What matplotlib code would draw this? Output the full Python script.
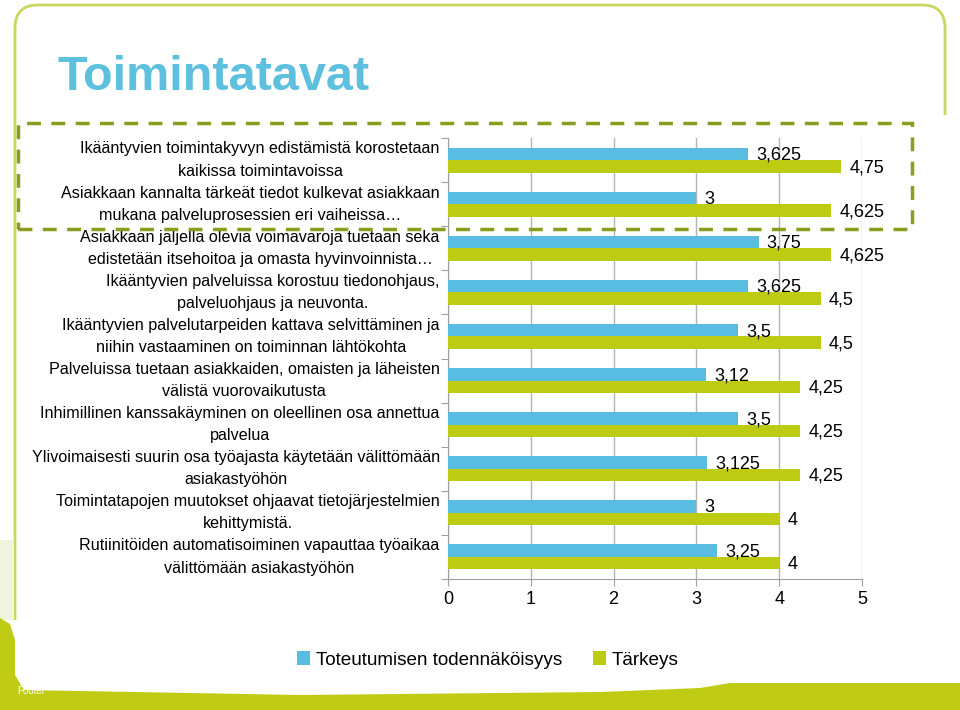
import matplotlib
matplotlib.use("Agg")
import matplotlib.pyplot as plt
from matplotlib.patches import Polygon, Rectangle, PathPatch
from matplotlib.path import Path

plt.rcParams["font.family"] = ["Liberation Sans", "DejaVu Sans"]

# ── Data ───────────────────────────────────────────────────────────────────────
categories = [
    "Ikääntyvien toimintakyvyn edistämistä korostetaan\nkaikissa toimintavoissa",
    "Asiakkaan kannalta tärkeät tiedot kulkevat asiakkaan\nmukana palveluprosessien eri vaiheissa…",
    "Asiakkaan jäljellä olevia voimavaroja tuetaan sekä\nedistetään itsehoitoa ja omasta hyvinvoinnista…",
    "Ikääntyvien palveluissa korostuu tiedonohjaus,\npalveluohjaus ja neuvonta.",
    "Ikääntyvien palvelutarpeiden kattava selvittäminen ja\nniihin vastaaminen on toiminnan lähtökohta",
    "Palveluissa tuetaan asiakkaiden, omaisten ja läheisten\nvälistä vuorovaikutusta",
    "Inhimillinen kanssakäyminen on oleellinen osa annettua\npalvelua",
    "Ylivoimaisesti suurin osa työajasta käytetään välittömään\nasiakastyöhön",
    "Toimintatapojen muutokset ohjaavat tietojärjestelmien\nkehittymistä.",
    "Rutiinitöiden automatisoiminen vapauttaa työaikaa\nvälittömään asiakastyöhön",
]
toteutuminen = [3.625, 3, 3.75, 3.625, 3.5, 3.12, 3.5, 3.125, 3, 3.25]
tarkeys = [4.75, 4.625, 4.625, 4.5, 4.5, 4.25, 4.25, 4.25, 4, 4]
series_names = ["Toteutumisen todennäköisyys", "Tärkeys"]
x_ticks = [0, 1, 2, 3, 4, 5]

BLUE = "#58bde0"
GREEN = "#bdcb13"
W, H = 960, 710


def fmt(v):
    return f"{v:g}".replace(".", ",")


fig = plt.figure(figsize=(W / 100, H / 100), dpi=100, facecolor="white")

# ── Slide background (pixel coordinates) ───────────────────────────────────────
bg = fig.add_axes([0, 0, 1, 1], zorder=-1)
bg.set_xlim(0, W)
bg.set_ylim(H, 0)
bg.axis("off")

frame = Path(
    [(15, 620), (15, 28), (15, 5), (38, 5), (922, 5), (945, 5), (945, 28), (945, 115)],
    [Path.MOVETO, Path.LINETO, Path.CURVE3, Path.CURVE3, Path.LINETO,
     Path.CURVE3, Path.CURVE3, Path.LINETO],
)
bg.add_patch(PathPatch(frame, fill=False, edgecolor="#cad65e", linewidth=2))
bg.add_patch(Rectangle((0, 540), 14, 80, facecolor="#f1f4dc", edgecolor="none"))
band = [(0, 618), (10, 624), (15, 640), (15, 675), (24, 690), (300, 695),
        (600, 692), (700, 688), (730, 683), (960, 683), (960, 710), (0, 710)]
bg.add_patch(Polygon(band, closed=True, facecolor="#c0cc14", edgecolor="none"))
bg.text(17, 691, "Footer", color="white", fontsize=7, va="center")
bg.text(58, 78, "Toimintatavat", color="#5cc0de", fontsize=35, fontweight="bold",
        family=["Liberation Sans Narrow", "Liberation Sans", "DejaVu Sans"],
        va="center", ha="left")

# ── Chart ──────────────────────────────────────────────────────────────────────
ax = fig.add_axes([448 / W, 1 - 579 / H, (862 - 448) / W, (579 - 138) / H])
pos = list(range(len(categories)))
bh = 0.283
bars_t = ax.barh([p - bh / 2 for p in pos], toteutuminen, height=bh, color=BLUE,
                 label=series_names[0], zorder=3)
bars_k = ax.barh([p + bh / 2 for p in pos], tarkeys, height=bh, color=GREEN,
                 label=series_names[1], zorder=3)

for bars, vals in ((bars_t, toteutuminen), (bars_k, tarkeys)):
    for b, v in zip(bars, vals):
        ax.annotate(fmt(v), (b.get_width(), b.get_y() + b.get_height() / 2),
                    xytext=(6, -1), textcoords="offset points",
                    va="center", ha="left", fontsize=13, color="black")

ax.set_xlim(0, 5)
ax.set_ylim(len(categories) - 0.5, -0.5)
ax.set_xticks(x_ticks)
ax.set_xticklabels([str(t) for t in x_ticks], fontsize=13)
ax.tick_params(axis="x", length=5, color="#a0a0a0", pad=4)

ax.set_yticks([p + 0.5 for p in range(-1, len(categories))])
ax.set_yticklabels([])
ax.tick_params(axis="y", which="major", length=5, color="#a0a0a0")
ax.set_yticks(pos, minor=True)
ax.set_yticklabels(categories, minor=True, fontsize=11.6, ha="right",
                   va="center", multialignment="center")
ax.tick_params(axis="y", which="minor", length=0, pad=6)
for lbl in ax.get_yticklabels(minor=True):
    lbl.set_linespacing(1.6)

ax.grid(axis="x", color="#b4b4b4", linewidth=1, zorder=0)
ax.spines[["top", "right"]].set_visible(False)
ax.spines[["left", "bottom"]].set_color("#a0a0a0")

fig.legend(handles=[bars_t, bars_k], labels=series_names, loc="center",
           bbox_to_anchor=(0.508, 1 - 660 / H), ncol=2, frameon=False,
           fontsize=13.6, handlelength=0.7, handleheight=0.7, handletextpad=0.3,
           columnspacing=1.64)

# dashed highlight box on top of everything
fig.patches.append(Rectangle((18 / W, 1 - 229 / H), (912 - 18) / W, (229 - 123) / H,
                             transform=fig.transFigure, fill=False,
                             edgecolor="#8c9c1c", linewidth=2.5,
                             linestyle=(0, (4, 3)), zorder=10))

fig.savefig("out.png", dpi=100, facecolor="white")
